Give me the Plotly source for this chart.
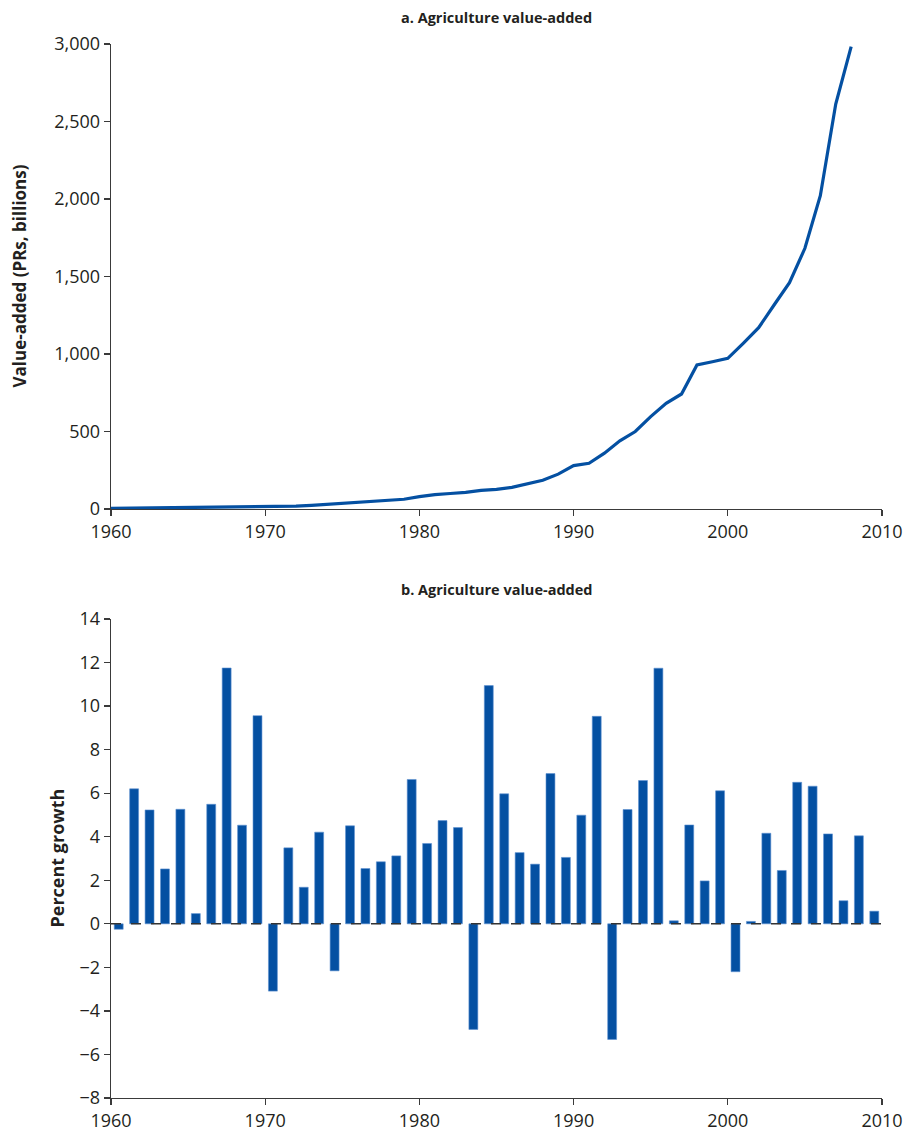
import plotly.graph_objects as go

# ---- Data ----
line_years = list(range(1960, 2009))
value_added = [4, 5, 5, 6, 7, 7, 8, 9, 10, 11,
               12, 14, 18, 24, 30, 36, 41, 46, 53, 63,
               80, 93, 100, 107, 120, 127, 140, 165, 185, 225,
               280, 295, 360, 440, 500, 596, 682, 742, 929, 950,
               972, 1069, 1170, 1316, 1460, 1682, 2021, 2613, 2983]

bar_years = list(range(1960, 2010))
growth = [-0.25, 6.20, 5.23, 2.52, 5.26, 0.47, 5.49, 11.75, 4.53, 9.56,
          -3.09, 3.49, 1.68, 4.21, -2.16, 4.50, 2.54, 2.85, 3.12, 6.63,
          3.69, 4.74, 4.42, -4.85, 10.94, 5.97, 3.27, 2.74, 6.90, 3.05,
          4.99, 9.53, -5.31, 5.25, 6.58, 11.74, 0.14, 4.54, 1.97, 6.11,
          -2.20, 0.11, 4.16, 2.45, 6.50, 6.32, 4.13, 1.06, 4.04, 0.58]

x_ticks = [1960, 1970, 1980, 1990, 2000, 2010]
top_yticks = [0, 500, 1000, 1500, 2000, 2500, 3000]
bot_yticks = list(range(-8, 15, 2))

title_a = "a. Agriculture value-added"
title_b = "b. Agriculture value-added"
ytitle_a = "Value-added (PRs, billions)"
ytitle_b = "Percent growth"

BLUE = "#0450a2"
AXIS = "#3a3a3a"
TXT = "#231f20"
FONT = "Open Sans"

W, H = 906, 1135
L, T = 111, 44
plot_right, plot_bottom = 882, 1098
R, B = W - plot_right, H - plot_bottom
ph = plot_bottom - T
top_dom = [(plot_bottom - 509) / ph, 1.0]
bot_dom = [0.0, (plot_bottom - 619) / ph]

fig = go.Figure()
fig.add_trace(go.Scatter(x=line_years, y=value_added, mode="lines",
                         line=dict(color=BLUE, width=3.2),
                         xaxis="x", yaxis="y", showlegend=False))
fig.add_trace(go.Bar(x=[y + 0.5 for y in bar_years], y=growth, width=0.58,
                     marker=dict(color=BLUE, line=dict(color="#5f92d2", width=0.6)),
                     xaxis="x2", yaxis="y2", showlegend=False))

axis_common = dict(showgrid=False, zeroline=False, showline=True,
                   linecolor=AXIS, linewidth=1.3, ticks="outside",
                   ticklen=6, tickwidth=1.3, tickcolor=AXIS,
                   tickfont=dict(family=FONT, size=18, color=TXT))

fig.update_layout(
    width=W, height=H,
    margin=dict(l=L, r=R, t=T, b=B, autoexpand=False),
    paper_bgcolor="white", plot_bgcolor="white",
    bargap=0,
    xaxis=dict(domain=[0, 1], anchor="y", range=[1960, 2010],
               tickvals=x_ticks, **axis_common),
    yaxis=dict(domain=top_dom, anchor="x", range=[0, 3000],
               tickvals=top_yticks, tickformat=",", **axis_common),
    xaxis2=dict(domain=[0, 1], anchor="y2", range=[1960, 2010],
                tickvals=x_ticks, **axis_common),
    yaxis2=dict(domain=bot_dom, anchor="x2", range=[-8, 14],
                tickvals=bot_yticks, **axis_common),
    shapes=[dict(type="line", xref="x2", yref="y2", x0=1960, x1=2010,
                 y0=0, y1=0, line=dict(color="#333333", width=1.6, dash="10px,10px"),
                 layer="above")],
    annotations=[
        dict(text=f"<b>{title_a}</b>", xref="paper", yref="paper", x=0.5,
             y=1, yshift=27, showarrow=False, yanchor="middle",
             font=dict(family=FONT, size=14.5, color=TXT)),
        dict(text=f"<b>{title_b}</b>", xref="paper", yref="paper", x=0.5,
             y=bot_dom[1], yshift=30, showarrow=False, yanchor="middle",
             font=dict(family=FONT, size=14.5, color=TXT)),
        dict(text=f"<b>{ytitle_a}</b>", xref="paper", yref="paper", x=0,
             xshift=-92, y=(top_dom[0] + top_dom[1]) / 2, textangle=-90,
             showarrow=False, xanchor="center", yanchor="middle",
             font=dict(family=FONT, size=17, color=TXT)),
        dict(text=f"<b>{ytitle_b}</b>", xref="paper", yref="paper", x=0,
             xshift=-54, y=(bot_dom[0] + bot_dom[1]) / 2, textangle=-90,
             showarrow=False, xanchor="center", yanchor="middle",
             font=dict(family=FONT, size=18, color=TXT)),
    ],
)

fig.write_html(
    "out.html",
    config={"displayModeBar": False, "staticPlot": True},
    post_script="document.body.style.margin='0';document.body.style.overflow='hidden';",
)
